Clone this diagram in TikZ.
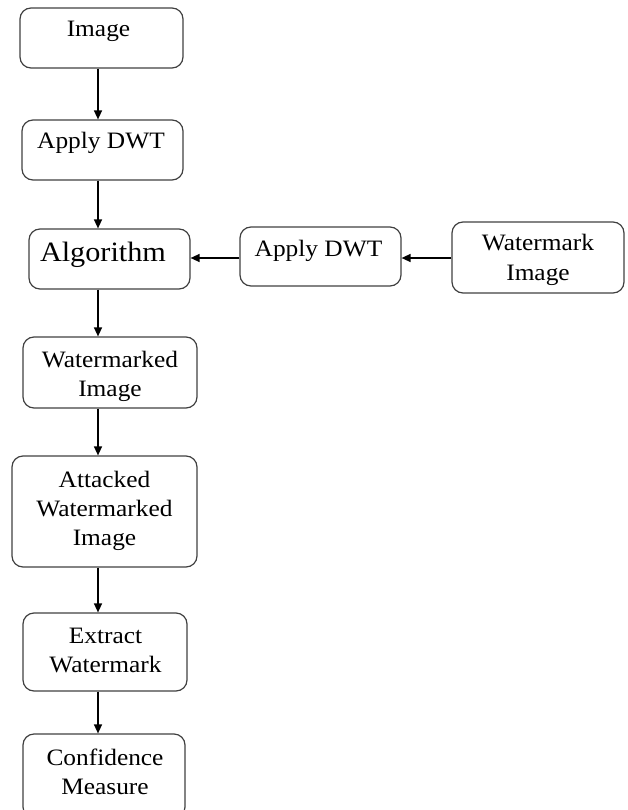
\documentclass[tikz,border=0pt]{standalone}
\usepackage{fontspec}
\setmainfont[FakeStretch=1.08]{Liberation Serif}
\usetikzlibrary{arrows.meta}
\newcommand{\mylines}[1]{\begin{tabular}[t]{@{}c@{}}#1\end{tabular}}
\tikzset{
  box/.style={draw=black!75, line width=1.2pt, rounded corners=11pt, inner sep=0pt, fill=none},
  lbl/.style={anchor=base, inner sep=0pt, font=\fontsize{23.5}{29}\selectfont},
  biglbl/.style={anchor=base, inner sep=0pt, font=\fontsize{28}{33}\selectfont},
  arr/.style={draw=black, line width=1.4pt, -{Triangle[length=9pt,width=8pt]}}
}
\begin{document}
\begin{tikzpicture}[x=1pt,y=-1pt]
\useasboundingbox (0,0) rectangle (627,810);
\clip (0,0) rectangle (627,810);
\renewcommand{\arraystretch}{1}
% boxes
\node[box, minimum width=163pt, minimum height=60pt] (img) at (101.5,38) {};
\node[box, minimum width=161pt, minimum height=60pt] (dwt1) at (102.5,150) {};
\node[box, minimum width=161pt, minimum height=60pt] (alg) at (109.5,259) {};
\node[box, minimum width=161pt, minimum height=59pt] (dwt2) at (320.5,256.5) {};
\node[box, minimum width=172pt, minimum height=71pt] (wmi) at (538,257.5) {};
\node[box, minimum width=174pt, minimum height=71pt] (wmd) at (110,372.5) {};
\node[box, minimum width=185pt, minimum height=111pt] (att) at (104.5,511.5) {};
\node[box, minimum width=164pt, minimum height=78pt] (ext) at (105,652) {};
\node[box, minimum width=162pt, minimum height=84pt] (conf) at (104,776) {};
% labels
\node[lbl] (t1) at (98.5,37) {Image};
\node[lbl] (t2) at (101,149) {Apply DWT};
\node[biglbl] (t3) at (103,261) {Algorithm};
\node[lbl] (t4) at (318.5,256) {Apply DWT};
\node[lbl] (t5) at (538,251) {\mylines{Watermark\\Image}};
\node[lbl] (t6) at (110,367) {\mylines{Watermarked\\Image}};
\node[lbl] (t7) at (104.5,487) {\mylines{Attacked\\Watermarked\\Image}};
\node[lbl] (t8) at (105.5,643) {\mylines{Extract\\Watermark}};
\node[lbl] (t9) at (105,765) {\mylines{Confidence\\Measure}};
% connectors
\coordinate (ax) at (98,0);
\coordinate (ay) at (0,258);
\draw[arr] (img.south -| ax) -- (dwt1.north -| ax);
\draw[arr] (dwt1.south -| ax) -- (alg.north -| ax);
\draw[arr] (alg.south -| ax) -- (wmd.north -| ax);
\draw[arr] (wmd.south -| ax) -- (att.north -| ax);
\draw[arr] (att.south -| ax) -- (ext.north -| ax);
\draw[arr] (ext.south -| ax) -- (conf.north -| ax);
\draw[arr] (wmi.west |- ay) -- (dwt2.east |- ay);
\draw[arr] (dwt2.west |- ay) -- (alg.east |- ay);
\end{tikzpicture}
\end{document}
